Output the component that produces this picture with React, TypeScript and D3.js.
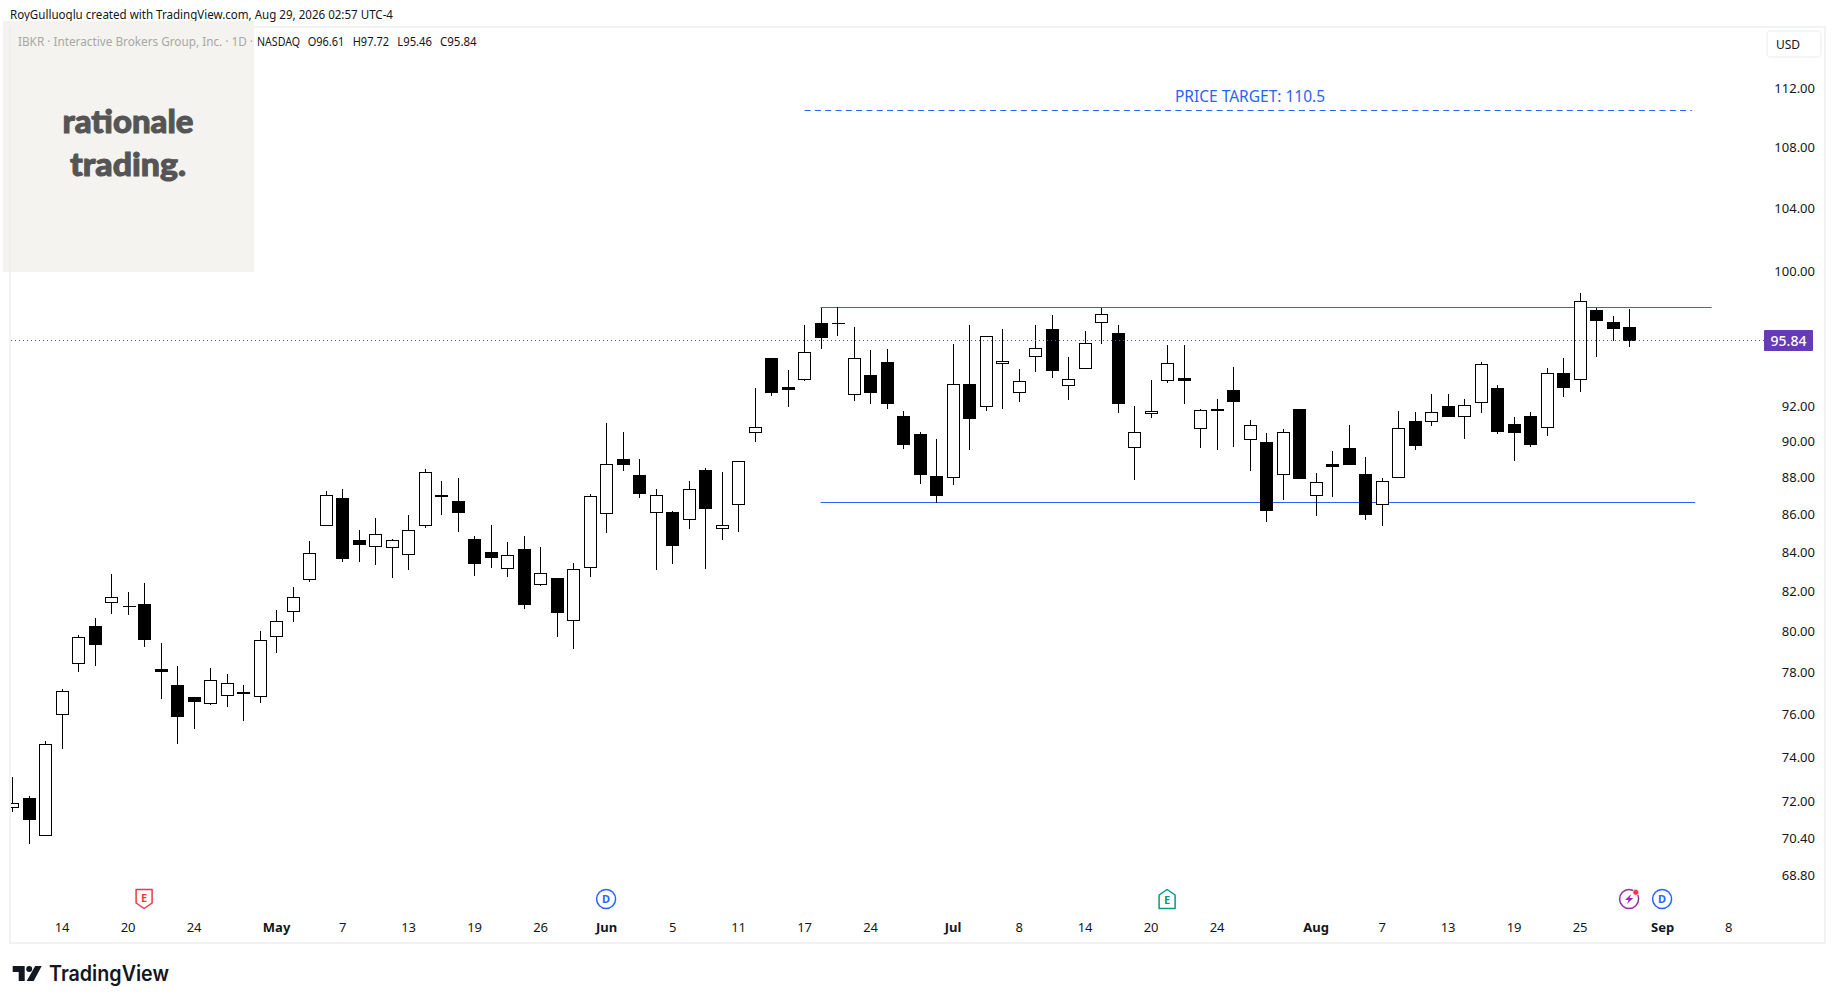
import React, { useRef, useEffect } from 'react';
import * as d3 from 'd3';

// daily candles, first one is Apr 9
const opens = [71.76, 72.16, 70.53, 76.03, 78.44, 80.25, 81.48, 81.29, 81.38, 78.16, 77.38, 76.84, 76.54, 76.92, 77.08, 76.87, 79.79, 81.04, 82.62, 85.43, 86.89, 84.66, 84.34, 84.28, 83.92, 85.43, 87.08, 86.73, 84.72, 84.02, 83.19, 84.19, 82.41, 82.68, 80.55, 83.24, 86.11, 89.02, 88.13, 86.14, 86.17, 85.77, 88.41, 85.30, 86.58, 90.50, 94.76, 93.11, 93.56, 96.82, 96.85, 92.68, 93.76, 94.52, 91.45, 90.40, 88.07, 88.06, 93.28, 91.99, 94.45, 92.79, 94.86, 96.47, 93.21, 94.21, 96.92, 96.24, 89.66, 91.60, 93.50, 93.62, 90.77, 91.84, 92.93, 90.11, 89.96, 88.22, 91.84, 87.06, 88.74, 89.63, 88.18, 86.58, 88.06, 91.16, 91.16, 91.99, 91.44, 92.21, 93.03, 90.99, 91.44, 90.83, 93.92, 93.56, 97.63, 96.92, 96.61];
const highs = [73.13, 72.30, 74.80, 77.26, 79.87, 80.74, 82.94, 82.01, 82.48, 79.48, 78.36, 76.84, 78.26, 77.95, 77.46, 80.07, 81.10, 82.27, 84.66, 87.35, 87.41, 85.22, 85.86, 84.75, 86.05, 88.52, 87.85, 88.02, 84.92, 85.50, 84.60, 84.92, 84.35, 82.68, 83.52, 87.18, 91.07, 90.57, 89.05, 87.45, 86.28, 87.85, 88.57, 88.35, 88.94, 93.11, 94.76, 94.11, 96.76, 97.81, 97.89, 96.65, 95.29, 95.35, 91.79, 90.57, 90.18, 95.64, 96.76, 96.12, 96.53, 94.17, 96.76, 97.41, 94.88, 96.41, 97.83, 96.76, 92.06, 93.52, 95.58, 95.58, 91.90, 92.46, 94.29, 91.23, 90.51, 90.73, 91.84, 88.30, 89.51, 90.95, 89.18, 88.02, 91.79, 91.68, 92.74, 92.74, 92.44, 94.62, 93.27, 91.45, 91.71, 94.27, 94.82, 98.72, 97.79, 97.34, 97.72];
const lows = [71.57, 70.17, 70.53, 74.44, 78.08, 78.37, 80.92, 80.87, 79.30, 76.75, 74.68, 75.37, 76.47, 76.38, 75.74, 76.57, 79.01, 80.53, 82.55, 85.43, 83.59, 83.59, 83.43, 82.75, 83.17, 85.36, 86.03, 85.15, 82.86, 83.27, 82.80, 81.16, 82.34, 79.79, 79.20, 82.80, 85.10, 88.42, 86.93, 83.17, 83.48, 85.30, 83.19, 84.73, 85.15, 90.03, 92.65, 92.02, 93.48, 95.37, 96.13, 92.36, 92.19, 91.86, 89.64, 87.70, 86.70, 87.65, 89.59, 91.75, 91.86, 92.25, 94.01, 93.66, 92.42, 94.21, 95.66, 91.64, 87.91, 91.36, 93.36, 92.19, 89.70, 89.57, 89.75, 88.41, 85.67, 86.86, 87.98, 85.98, 86.98, 88.76, 85.77, 85.46, 88.06, 89.59, 90.92, 91.41, 90.20, 91.64, 90.47, 88.98, 89.75, 90.36, 92.54, 92.83, 94.89, 95.84, 95.46];
const closes = [71.94, 71.22, 74.60, 77.12, 79.71, 79.40, 81.73, 81.27, 79.64, 78.06, 75.92, 76.61, 77.61, 77.51, 77.00, 79.57, 80.50, 81.73, 83.97, 87.06, 83.74, 84.47, 84.96, 84.65, 85.17, 88.33, 86.98, 86.14, 83.48, 83.79, 83.87, 81.36, 82.93, 80.97, 83.14, 87.01, 88.72, 88.76, 87.15, 87.06, 84.42, 87.39, 86.35, 85.48, 88.89, 90.83, 92.77, 92.99, 95.15, 96.02, 96.83, 94.74, 92.77, 92.14, 89.86, 88.20, 87.04, 93.27, 91.30, 96.04, 94.62, 93.44, 95.33, 94.07, 93.56, 95.63, 97.40, 92.19, 90.55, 91.71, 94.45, 93.48, 91.77, 91.75, 92.25, 90.94, 86.24, 90.50, 87.98, 87.78, 88.64, 88.76, 86.03, 87.84, 90.72, 89.81, 91.66, 91.41, 92.05, 94.39, 90.58, 90.53, 89.86, 93.92, 93.07, 98.16, 97.02, 96.55, 95.84];

const priceTicks = [112, 108, 104, 100, 92, 90, 88, 86, 84, 82, 80, 78, 76, 74, 72, 70.4, 68.8];
const tickIndex = [3, 7, 11, 16, 20, 24, 28, 32, 36, 40, 44, 48, 52, 57, 61, 65, 69, 73, 79, 83, 87, 91, 95, 100, 104];
const tickLabels = ['14', '20', '24', 'May', '7', '13', '19', '26', 'Jun', '5', '11', '17', '24', 'Jul', '8', '14', '20', '24', 'Aug', '7', '13', '19', '25', 'Sep', '8'];

const resistance = 97.79;
const support = 86.67;
const target = 110.5;

const earningsPast = [8];
const earningsNext = [70];
const dividends = [36, 100];
const newsAt = [98];

const FONT = '"Noto Sans", sans-serif';
const BLUE = '#2962ff';
const PURPLE = '#673ab7';

export default function App() {
  const svgRef = useRef<SVGSVGElement>(null);

  useEffect(() => {
    if (!svgRef.current) return;
    const svg = d3.select(svgRef.current);
    svg.selectAll('*').remove();

    const x = d3.scaleLinear().domain([0, 104]).range([12.1, 1728.1]);
    const y = d3.scaleLog().domain([112, 68.8]).range([88.3, 875]);
    const snap = (v: number) => Math.round(v) + 0.5;
    const last = closes.length - 1;

    svg.append('rect').attr('width', 1835).attr('height', 1004).attr('fill', 'white');

    // frame
    svg.append('rect').attr('x', 10).attr('y', 27).attr('width', 1815).attr('height', 916)
      .attr('fill', 'none').attr('stroke', '#f1f2f4').attr('stroke-width', 2);

    svg.append('text').attr('x', 10).attr('y', 19).attr('font-family', FONT).attr('font-size', 12)
      .attr('fill', '#131722').attr('textLength', 383).attr('lengthAdjust', 'spacingAndGlyphs')
      .text('RoyGulluoglu created with TradingView.com, Aug 29, 2026 02:57 UTC-4');

    const defs = svg.append('defs');
    defs.append('clipPath').attr('id', 'pane').append('rect')
      .attr('x', 11).attr('y', 28).attr('width', 1813).attr('height', 914);

    const pane = svg.append('g').attr('clip-path', 'url(#pane)');

    // drawings sit under the candles
    const hline = (p: number, i0: number, i1: number) =>
      pane.append('line')
        .attr('x1', x(i0)).attr('x2', x(i1))
        .attr('y1', snap(y(p))).attr('y2', snap(y(p)))
        .attr('stroke', BLUE).attr('stroke-width', 1);
    hline(resistance, 49, 103);
    hline(support, 49, 102);
    hline(target, 48.03, 101.8).attr('stroke-dasharray', '6 4.3');

    svg.append('text').attr('x', 1250).attr('y', 102).attr('text-anchor', 'middle')
      .attr('font-family', FONT).attr('font-size', 15.5).attr('fill', BLUE)
      .text(`PRICE TARGET: ${target}`);

    // candles
    const candles = pane.append('g').attr('shape-rendering', 'crispEdges');
    closes.forEach((c, i) => {
      const o = opens[i];
      const up = c >= o;
      const cx = Math.round(x(i)) + 0.5;
      const top = snap(y(Math.max(o, c)));
      const bottom = snap(y(Math.min(o, c)));
      candles.append('line')
        .attr('x1', cx).attr('x2', cx)
        .attr('y1', snap(y(highs[i]))).attr('y2', snap(y(lows[i])))
        .attr('stroke', '#000').attr('stroke-width', 1);
      if (top === bottom) {
        // flat body, a zero height rect would not paint
        candles.append('line')
          .attr('x1', cx - 6).attr('x2', cx + 7)
          .attr('y1', top).attr('y2', top)
          .attr('stroke', '#000').attr('stroke-width', 1);
      } else {
        candles.append('rect')
          .attr('x', cx - 6).attr('width', 12)
          .attr('y', top).attr('height', bottom - top)
          .attr('fill', up ? '#fff' : '#000')
          .attr('stroke', '#000').attr('stroke-width', 1);
      }
    });

    // last price line
    pane.append('line')
      .attr('x1', 11).attr('x2', 1764)
      .attr('y1', snap(y(closes[last]))).attr('y2', snap(y(closes[last])))
      .attr('stroke', PURPLE).attr('stroke-width', 1).attr('stroke-dasharray', '1 3');

    // price axis
    const yAxis = svg.append('g').call(
      d3.axisRight(y).tickValues(priceTicks).tickSize(0).tickFormat(d3.format('.2f') as any)
    );
    yAxis.select('.domain').remove();
    yAxis.selectAll('text')
      .attr('x', 1815).attr('text-anchor', 'end')
      .attr('font-family', FONT).attr('font-size', 13).attr('fill', '#131722');

    svg.append('rect').attr('x', 1764).attr('y', 330).attr('width', 49).attr('height', 21)
      .attr('rx', 1).attr('fill', PURPLE);
    svg.append('text').attr('x', 1788.5).attr('y', 345.5).attr('text-anchor', 'middle')
      .attr('font-family', FONT).attr('font-size', 14).attr('font-weight', 500).attr('fill', '#fff')
      .text(closes[last].toFixed(2));

    svg.append('rect').attr('x', 1767).attr('y', 31).attr('width', 54).attr('height', 26)
      .attr('rx', 4).attr('fill', '#fff').attr('stroke', '#f1f2f4').attr('stroke-width', 1.5);
    svg.append('text').attr('x', 1776).attr('y', 49).attr('font-family', FONT).attr('font-size', 12)
      .attr('fill', '#131722').text('USD');

    // time axis
    const xAxis = svg.append('g').attr('transform', 'translate(0,917)').call(
      d3.axisBottom(x).tickValues(tickIndex).tickSize(0)
        .tickFormat(((_: any, i: number) => tickLabels[i]) as any)
    );
    xAxis.select('.domain').remove();
    xAxis.selectAll('text')
      .attr('y', 6)
      .attr('font-family', FONT).attr('font-size', 13).attr('fill', '#131722')
      .attr('font-weight', (_: any, i: number) => (isNaN(+tickLabels[i]) ? 700 : 400));

    // event markers
    const iconY = 899;
    const letter = (g: any, cx: number, label: string, color: string, dy: number) =>
      g.append('text').attr('x', cx).attr('y', iconY + dy).attr('text-anchor', 'middle')
        .attr('font-family', FONT).attr('font-size', 11).attr('font-weight', 700).attr('fill', color)
        .text(label);

    earningsPast.forEach((i) => {
      const cx = x(i);
      svg.append('path')
        .attr('transform', `translate(${cx},${iconY})`)
        .attr('d', 'M-8,-9.5 H8 V4 L0,9.5 L-8,4 Z')
        .attr('fill', '#fff').attr('stroke', '#f23645').attr('stroke-width', 1.5).attr('stroke-linejoin', 'round');
      letter(svg, cx, 'E', '#f23645', 3);
    });
    earningsNext.forEach((i) => {
      const cx = x(i);
      svg.append('path')
        .attr('transform', `translate(${cx},${iconY})`)
        .attr('d', 'M-8,9.5 H8 V-4 L0,-9.5 L-8,-4 Z')
        .attr('fill', '#fff').attr('stroke', '#089981').attr('stroke-width', 1.5).attr('stroke-linejoin', 'round');
      letter(svg, cx, 'E', '#089981', 5);
    });
    dividends.forEach((i) => {
      const cx = x(i);
      svg.append('circle').attr('cx', cx).attr('cy', iconY).attr('r', 9.5)
        .attr('fill', '#fff').attr('stroke', BLUE).attr('stroke-width', 1.5);
      letter(svg, cx, 'D', BLUE, 4);
    });
    newsAt.forEach((i) => {
      const cx = x(i);
      svg.append('circle').attr('cx', cx).attr('cy', iconY).attr('r', 9.5)
        .attr('fill', '#fff').attr('stroke', '#9c27b0').attr('stroke-width', 1.5);
      svg.append('path').attr('transform', `translate(${cx},${iconY})`)
        .attr('d', 'M2,-5 L-4,1 H-0.5 L-2,5 L4,-1 H0.5 Z').attr('fill', '#9c27b0');
      svg.append('circle').attr('cx', cx + 6.7).attr('cy', iconY - 6.7).attr('r', 3)
        .attr('fill', '#f23645').attr('stroke', '#fff').attr('stroke-width', 0.7);
    });

    // watermark box
    svg.append('rect').attr('x', 3).attr('y', 21).attr('width', 251).attr('height', 251).attr('fill', '#f4f3ef');
    svg.append('line').attr('x1', 10).attr('x2', 10).attr('y1', 27).attr('y2', 272)
      .attr('stroke', '#eeeeea').attr('stroke-width', 2);
    [['rationale', 133, 131], ['trading.', 176, 116]].forEach(([t, by, w]) => {
      svg.append('text').attr('x', 128).attr('y', by as number).attr('text-anchor', 'middle')
        .attr('font-family', 'Lato, sans-serif').attr('font-size', 33).attr('font-weight', 900)
        .attr('fill', '#555').attr('stroke', '#555').attr('stroke-width', 1)
        .attr('textLength', w as number).attr('lengthAdjust', 'spacingAndGlyphs')
        .text(t as string);
    });

    // legend row
    svg.append('text').attr('x', 18).attr('y', 46).attr('font-family', FONT).attr('font-size', 12)
      .attr('fill', '#a8a8a6').attr('textLength', 235).attr('lengthAdjust', 'spacingAndGlyphs')
      .text('IBKR · Interactive Brokers Group, Inc. · 1D ·');
    const legendItems = [
      { t: 'NASDAQ', x: 257, w: 43 },
      { t: `O${opens[last].toFixed(2)}`, x: 307.7, w: 36.7 },
      { t: `H${highs[last].toFixed(2)}`, x: 352.7, w: 36.3 },
      { t: `L${lows[last].toFixed(2)}`, x: 397.3, w: 34.7 },
      { t: `C${closes[last].toFixed(2)}`, x: 440, w: 36.7 },
    ];
    legendItems.forEach((d) => {
      svg.append('text').attr('x', d.x).attr('y', 46).attr('font-family', FONT).attr('font-size', 12)
        .attr('fill', '#131722').attr('textLength', d.w).attr('lengthAdjust', 'spacingAndGlyphs').text(d.t);
    });

    // TradingView logo
    const logo = svg.append('g').attr('transform', 'translate(12.7,966)').attr('fill', '#131722');
    logo.append('path').attr('d', 'M0,0 H12 V15 H6 V6 H0 Z');
    logo.append('circle').attr('cx', 16.5).attr('cy', 3).attr('r', 3);
    logo.append('path').attr('d', 'M22.5,0 H29 L21,15 H14 Z');
    svg.append('text').attr('x', 49).attr('y', 981).attr('font-family', 'Inter, sans-serif')
      .attr('font-size', 21).attr('font-weight', 600).attr('fill', '#131722')
      .attr('textLength', 120).attr('lengthAdjust', 'spacingAndGlyphs').text('TradingView');
  }, []);

  return (
    <svg
      ref={svgRef}
      width={1835}
      height={1004}
      style={{ position: 'absolute', left: 0, top: 0, display: 'block' }}
    />
  );
}
